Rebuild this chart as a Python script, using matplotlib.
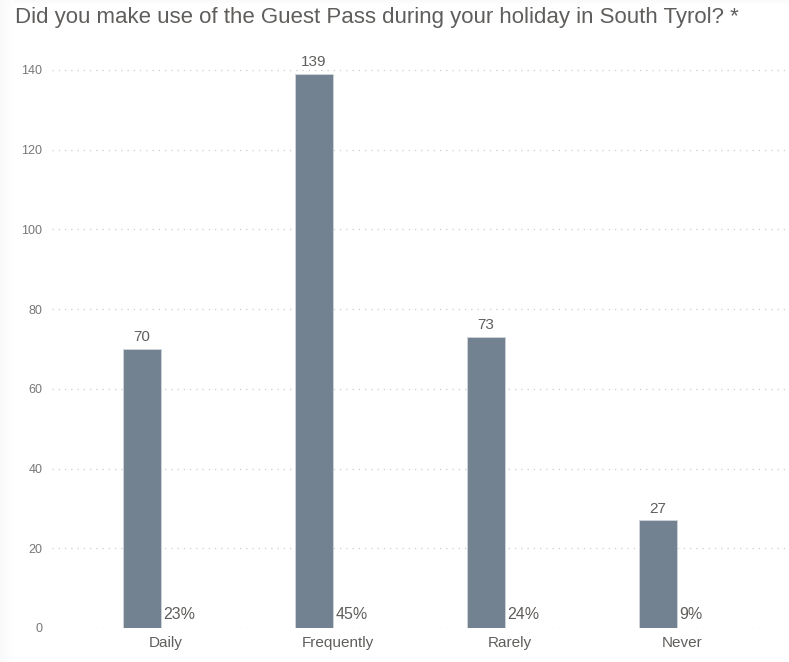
import matplotlib
matplotlib.use('Agg')
import matplotlib.pyplot as plt
from matplotlib.patches import Rectangle

# Survey answers
categories = ['Daily', 'Frequently', 'Rarely', 'Never']
counts = [70, 139, 73, 27]
shares = ['23%', '45%', '24%', '9%']
y_ticks = [0, 20, 40, 60, 80, 100, 120, 140]

BAR_COLOR = '#738290'
TEXT_COLOR = '#605E5C'
TICK_COLOR = '#777777'

plt.rcParams['font.family'] = ['Liberation Sans', 'DejaVu Sans']

fig = plt.figure(figsize=(7.89, 6.62), dpi=100)
fig.patch.set_facecolor('white')

# faint card shadow on left and top edges
for i in range(14):
    a = 0.045 * (1 - i / 14)
    fig.patches.append(Rectangle((i / 789, 0), 1 / 789, 1, transform=fig.transFigure,
                                 color='#888888', alpha=a, lw=0))
for i in range(5):
    a = 0.04 * (1 - i / 5)
    fig.patches.append(Rectangle((14 / 789, 1 - (i + 1) / 662), 1, 1 / 662, transform=fig.transFigure,
                                 color='#888888', alpha=a, lw=0))

ax = fig.add_axes([52 / 789, 34 / 662, 733 / 789, 578 / 662])
x = list(range(len(categories)))
bar_x = [i - 0.14 for i in x]
ax.bar(bar_x, counts, width=0.221, color=BAR_COLOR, edgecolor='#d0d6db', linewidth=0.6, zorder=3)

for bx, v in zip(bar_x, counts):
    ax.text(bx, v + 1.2, str(v), ha='center', va='bottom', fontsize=11, color=TEXT_COLOR)
for bx, s in zip(bar_x, shares):
    ax.text(bx + 0.125, 1.6, s, ha='left', va='bottom', fontsize=11.5, color=TEXT_COLOR)

ax.set_xlim(-0.663, 3.599)
ax.set_ylim(0, 145)
ax.set_yticks(y_ticks)
ax.set_yticklabels([str(t) for t in y_ticks])
ax.set_xticks(x)
ax.set_xticklabels(categories)
ax.tick_params(axis='y', length=0, labelsize=9, labelcolor=TICK_COLOR, pad=7)
ax.tick_params(axis='x', length=0, labelsize=11, labelcolor=TEXT_COLOR, pad=6)
ax.grid(axis='y', color='#cccccc', linestyle=(0, (1, 4)), linewidth=0.9, zorder=0)
for sp in ax.spines.values():
    sp.set_visible(False)

fig.text(15 / 789, 1 - 18 / 662, 'Did you make use of the Guest Pass during your holiday in South Tyrol? *',
         ha='left', va='center', fontsize=16, color=TEXT_COLOR)

fig.savefig('out.png', dpi=100)
